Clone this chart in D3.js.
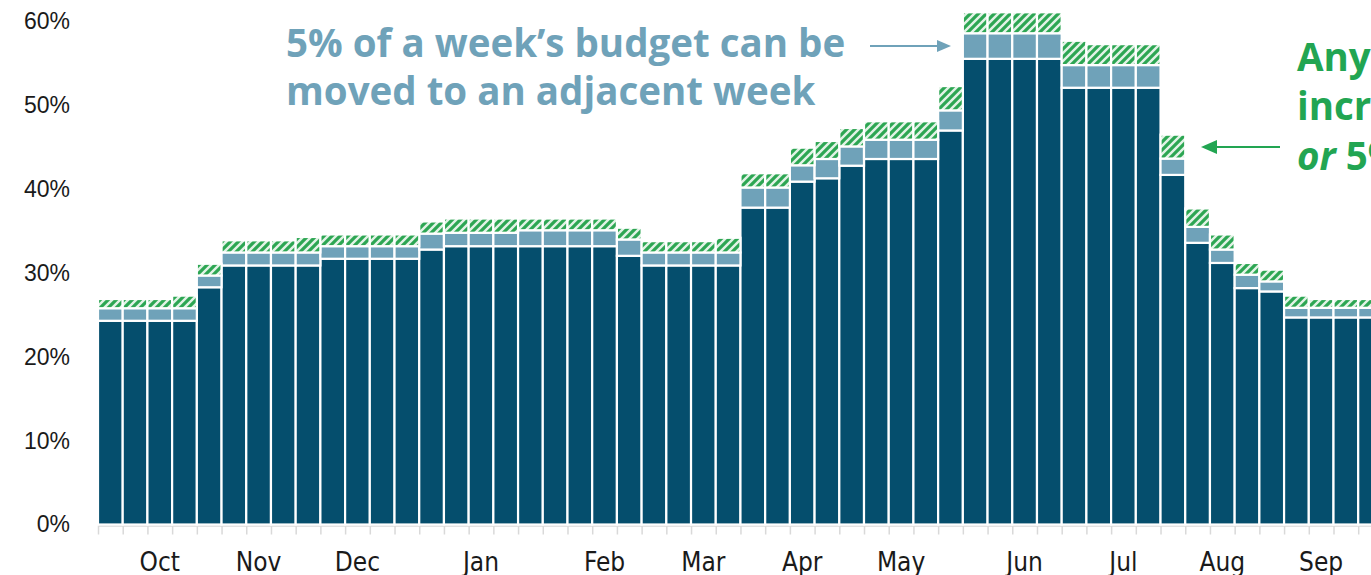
<!DOCTYPE html>
<html>
<head>
<meta charset="utf-8">
<script src="https://cdn.jsdelivr.net/npm/d3@7"></script>
<style>
  html, body { margin: 0; padding: 0; background: #fff; overflow: hidden; }
  svg { display: block; }
</style>
</head>
<body>
<svg id="chart" width="1371" height="575"></svg>
<script>
// Weekly budget share, 52 weeks starting in October
const weeks = ["W1","W2","W3","W4","W5","W6","W7","W8","W9","W10","W11","W12","W13",
  "W14","W15","W16","W17","W18","W19","W20","W21","W22","W23","W24","W25","W26",
  "W27","W28","W29","W30","W31","W32","W33","W34","W35","W36","W37","W38","W39",
  "W40","W41","W42","W43","W44","W45","W46","W47","W48","W49","W50","W51","W52"];

// Core weekly budget (% share)
const baseBudget = [24.3, 24.3, 24.3, 24.3, 28.3, 30.9, 30.9, 30.9, 30.9, 31.7, 31.7, 31.7, 31.7,
  32.8, 33.2, 33.2, 33.2, 33.2, 33.2, 33.2, 33.2, 32.05, 30.9, 30.9, 30.9, 30.9,
  37.8, 37.8, 40.9, 41.3, 42.8, 43.6, 43.6, 43.6, 47.0, 55.55, 55.55, 55.55, 55.55,
  52.1, 52.1, 52.1, 52.1, 41.7, 33.6, 31.2, 28.2, 27.8, 24.7, 24.7, 24.7, 24.7];

// Portion that can be moved to an adjacent week
const movable = [1.5, 1.5, 1.5, 1.5, 1.4, 1.55, 1.55, 1.55, 1.55, 1.5, 1.5, 1.5, 1.5,
  1.9, 1.6, 1.6, 1.6, 1.9, 1.9, 1.9, 1.9, 1.95, 1.55, 1.55, 1.55, 1.55,
  2.4, 2.4, 1.95, 2.3, 2.3, 2.3, 2.3, 2.3, 2.4, 3.05, 3.05, 3.05, 3.05,
  2.7, 2.7, 2.7, 2.7, 1.95, 1.9, 1.6, 1.6, 1.2, 1.15, 1.15, 1.15, 1.15];

// Allowed increase on top
const increase = [1.1, 1.1, 1.1, 1.5, 1.4, 1.45, 1.45, 1.45, 1.85, 1.4, 1.4, 1.4, 1.4,
  1.45, 1.7, 1.7, 1.7, 1.4, 1.4, 1.4, 1.4, 1.4, 1.35, 1.35, 1.35, 1.75,
  1.7, 1.7, 2.1, 2.15, 2.2, 2.2, 2.2, 2.2, 2.9, 2.5, 2.5, 2.5, 2.5,
  2.9, 2.5, 2.5, 2.5, 2.85, 2.2, 1.8, 1.4, 1.4, 1.45, 1.05, 1.05, 1.05];

// Month labels and the week each one sits under
const monthLabels = ["Oct","Nov","Dec","Jan","Feb","Mar","Apr","May","Jun","Jul","Aug","Sep"];
const monthWeekIndex = [2, 6, 10, 15, 20, 24, 28, 32, 37, 41, 45, 49];

const yTicks = [0, 10, 20, 30, 40, 50, 60];

const rows = weeks.map((w, i) => ({ week: w, base: baseBudget[i], movable: movable[i], increase: increase[i] }));
const keys = ["base", "movable", "increase"];
const stacked = d3.stack().keys(keys)(rows);

const svg = d3.select("#chart");
const left = 98, step = 24.71;
const x = d3.scaleBand().domain(weeks).range([left, left + step * weeks.length]).padding(0);
const y = d3.scaleLinear().domain([0, 60]).range([524.5, 21.5]);

// hatch fill for the increase segment
const defs = svg.append("defs");
const pat = defs.append("pattern").attr("id", "hatch")
  .attr("patternUnits", "userSpaceOnUse").attr("width", 8).attr("height", 8);
pat.append("rect").attr("width", 8).attr("height", 8).attr("fill", "#e2f3e6");
pat.append("path").attr("d", "M0,8 L8,0 M-2,2 L2,-2 M6,10 L10,6")
  .attr("stroke", "#2da653").attr("stroke-width", 3.2);

const fills = { base: "#054e6d", movable: "#6fa2b9", increase: "url(#hatch)" };

// y axis labels
const yAxis = d3.axisLeft(y).tickValues(yTicks).tickFormat(d => d + "%").tickSize(0).tickPadding(0);
const gy = svg.append("g").attr("transform", "translate(70,0)").call(yAxis);
gy.select(".domain").remove();
gy.selectAll("text").attr("font-family", "'Liberation Sans', Arial, sans-serif")
  .attr("font-size", 23).attr("fill", "#1a1a1a");

// tick marks at every week boundary
const xIdx = d3.scaleLinear().domain([0, weeks.length]).range(x.range());
const gTicks = svg.append("g").attr("transform", "translate(0,525.5)")
  .call(d3.axisBottom(xIdx).tickValues(d3.range(0, weeks.length + 1)).tickFormat("").tickSize(9).tickSizeOuter(0));
gTicks.select(".domain").attr("stroke", "#d9d9d9").attr("stroke-width", 1.5);
gTicks.selectAll(".tick line").attr("stroke", "#d9d9d9").attr("stroke-width", 1.5);

// month labels
const monthTicks = monthWeekIndex.map(i => weeks[i]);
const gx = svg.append("g").attr("transform", "translate(0,551)")
  .call(d3.axisBottom(x).tickValues(monthTicks)
    .tickFormat(w => monthLabels[monthTicks.indexOf(w)]).tickSize(0).tickPadding(0));
gx.select(".domain").remove();
gx.selectAll("text")
  .attr("font-family", "'DejaVu Sans Condensed', 'Liberation Sans Narrow', 'DejaVu Sans', sans-serif")
  .style("font-stretch", "condensed")
  .attr("font-size", 26).attr("fill", "#1a1a1a").attr("dy", "0.75em");

// stacked bars
svg.append("g").selectAll("g").data(stacked).join("g")
  .attr("fill", d => fills[d.key])
  .selectAll("rect").data(d => d).join("rect")
  .attr("x", d => x(d.data.week))
  .attr("width", x.bandwidth())
  .attr("y", d => y(d[1]))
  .attr("height", d => y(d[0]) - y(d[1]))
  .attr("stroke", "#fff").attr("stroke-width", 2.2);

// annotations
const blue = "#6fa2b9", green = "#22a552";
const noteFont = "'Open Sans', 'Noto Sans', sans-serif";
const n1 = svg.append("text").attr("font-family", noteFont).attr("font-weight", 700)
  .attr("font-size", 38.5).attr("fill", blue);
n1.append("tspan").attr("x", 286).attr("y", 57).text("5% of a week\u2019s budget can be");
n1.append("tspan").attr("x", 286).attr("y", 105).text("moved to an adjacent week");

svg.append("line").attr("x1", 870).attr("x2", 940).attr("y1", 46).attr("y2", 46)
  .attr("stroke", blue).attr("stroke-width", 2);
svg.append("path").attr("d", "M951,46 L937,40 L937,52 Z").attr("fill", blue);

const n2 = svg.append("text").attr("font-family", noteFont).attr("font-weight", 700)
  .attr("font-size", 38.5).attr("fill", green);
n2.append("tspan").attr("x", 1297).attr("y", 71).text("Any");
n2.append("tspan").attr("x", 1297).attr("y", 120).text("increase");
const l3 = n2.append("tspan").attr("x", 1297).attr("y", 170);
l3.append("tspan").attr("font-style", "italic").text("or");
l3.append("tspan").text(" 5%");

svg.append("line").attr("x1", 1280).attr("x2", 1214).attr("y1", 147).attr("y2", 147)
  .attr("stroke", green).attr("stroke-width", 2.2);
svg.append("path").attr("d", "M1201,147 L1217,140 L1217,154 Z").attr("fill", green);
</script>
</body>
</html>
